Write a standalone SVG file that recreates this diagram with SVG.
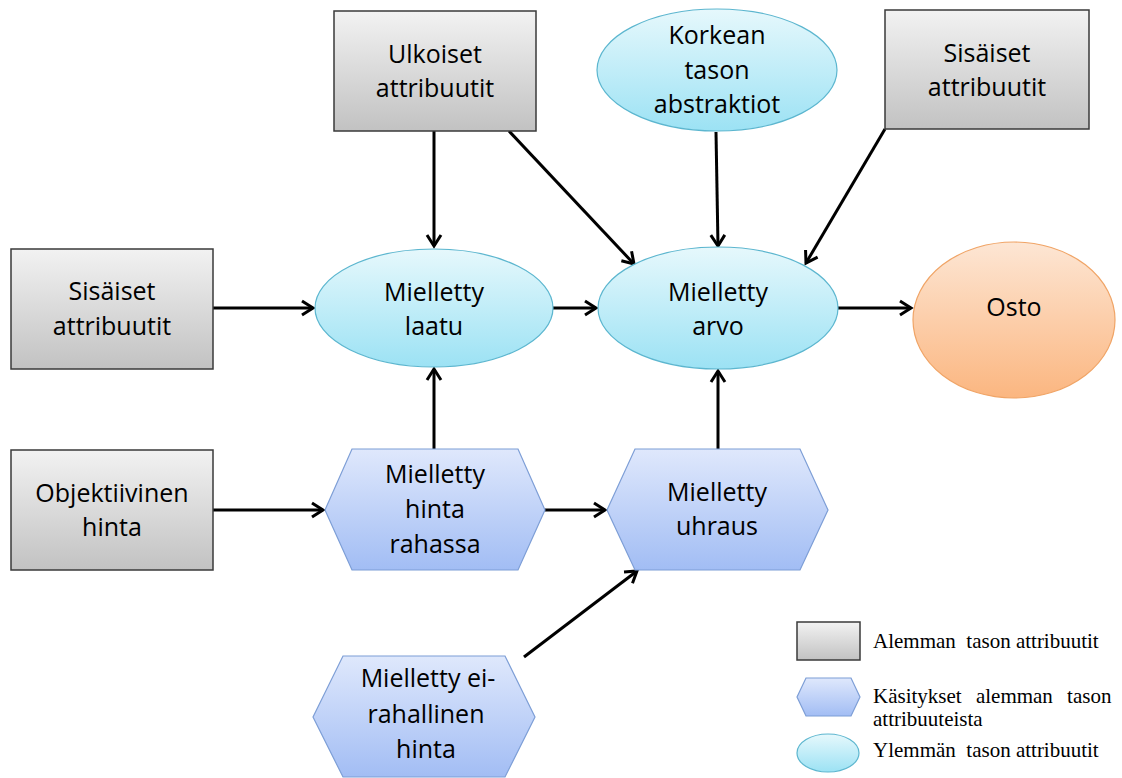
<svg xmlns="http://www.w3.org/2000/svg" width="1122" height="778" viewBox="0 0 1122 778">
<defs>
<linearGradient id="gGray" x1="0" y1="0" x2="0" y2="1"><stop offset="0" stop-color="#f2f2f2"/><stop offset="1" stop-color="#c2c2c2"/></linearGradient>
<linearGradient id="gCyan" x1="0" y1="0" x2="0" y2="1"><stop offset="0" stop-color="#e6f8fc"/><stop offset="1" stop-color="#9ce2f4"/></linearGradient>
<linearGradient id="gBlue" x1="0" y1="0" x2="0" y2="1"><stop offset="0" stop-color="#dfe8fc"/><stop offset="1" stop-color="#a2bdf4"/></linearGradient>
<linearGradient id="gOrange" x1="0" y1="0" x2="0" y2="1"><stop offset="0" stop-color="#fde6d4"/><stop offset="1" stop-color="#fbb680"/></linearGradient>
<marker id="arr" markerUnits="userSpaceOnUse" markerWidth="16" markerHeight="16" refX="12" refY="8" orient="auto" overflow="visible">
<path d="M1,1 L12,8 L1,15" fill="none" stroke="#000" stroke-width="3"/>
</marker>
</defs>
<style>
.box{fill:url(#gGray);stroke:#3a3a3a;stroke-width:1.5}
.ell{fill:url(#gCyan);stroke:#5cb6cf;stroke-width:1.2}
.hex{fill:url(#gBlue);stroke:#7d9ed6;stroke-width:1.2}
.osto{fill:url(#gOrange);stroke:#f0a466;stroke-width:1.2}
.t{font-family:"Open Sans","Liberation Sans",sans-serif;font-size:25px;fill:#000;text-anchor:middle}
.lg{font-family:"Liberation Serif","Times New Roman",serif;font-size:21px;fill:#000}
.c{fill:none;stroke:#000;stroke-width:3;marker-end:url(#arr)}
</style>
<rect width="1122" height="778" fill="#fff"/>

<g id="connectors">
<line class="c" x1="434" y1="131" x2="434" y2="246"/>
<line class="c" x1="509" y1="131" x2="634" y2="264"/>
<line class="c" x1="716" y1="132" x2="718" y2="246"/>
<line class="c" x1="885" y1="129" x2="806" y2="263"/>
<line class="c" x1="213" y1="308" x2="313" y2="308"/>
<line class="c" x1="553" y1="308" x2="596" y2="308"/>
<line class="c" x1="838" y1="308" x2="911" y2="308"/>
<line class="c" x1="434" y1="449" x2="434" y2="369"/>
<line class="c" x1="718" y1="449" x2="718" y2="371"/>
<line class="c" x1="213" y1="510" x2="323" y2="510"/>
<line class="c" x1="545" y1="510" x2="605" y2="510"/>
<line class="c" x1="524" y1="657" x2="637" y2="571"/>
</g>

<g id="ulkoiset">
<rect class="box" x="334" y="11" width="202" height="120"/>
<text class="t" x="435" y="63">Ulkoiset</text>
<text class="t" x="435" y="97">attribuutit</text>
</g>
<g id="korkean">
<ellipse class="ell" cx="717" cy="70" rx="120" ry="61"/>
<text class="t" x="717" y="44">Korkean</text>
<text class="t" x="717" y="79">tason</text>
<text class="t" x="717" y="113">abstraktiot</text>
</g>
<g id="sisaiset-top">
<rect class="box" x="885" y="10" width="204" height="119"/>
<text class="t" x="987" y="62">Sisäiset</text>
<text class="t" x="987" y="96">attribuutit</text>
</g>
<g id="sisaiset-left">
<rect class="box" x="11" y="249" width="202" height="120"/>
<text class="t" x="112" y="300">Sisäiset</text>
<text class="t" x="112" y="335">attribuutit</text>
</g>
<g id="laatu">
<ellipse class="ell" cx="434" cy="308" rx="119" ry="59"/>
<text class="t" x="434" y="301">Mielletty</text>
<text class="t" x="434" y="335">laatu</text>
</g>
<g id="arvo">
<ellipse class="ell" cx="718" cy="308" rx="120" ry="61"/>
<text class="t" x="718" y="301">Mielletty</text>
<text class="t" x="718" y="335">arvo</text>
</g>
<g id="osto">
<ellipse class="osto" cx="1014" cy="320" rx="101" ry="78"/>
<text class="t" x="1014" y="316">Osto</text>
</g>
<g id="objektiivinen">
<rect class="box" x="11" y="450" width="202" height="120"/>
<text class="t" x="112" y="502">Objektiivinen</text>
<text class="t" x="112" y="536">hinta</text>
</g>
<g id="hinta-rahassa">
<polygon class="hex" points="325,510 352,449 518,449 545,510 518,570 352,570"/>
<text class="t" x="435" y="483">Mielletty</text>
<text class="t" x="435" y="518">hinta</text>
<text class="t" x="435" y="553">rahassa</text>
</g>
<g id="uhraus">
<polygon class="hex" points="607,510 635,449 800,449 828,510 800,570 635,570"/>
<text class="t" x="717" y="501">Mielletty</text>
<text class="t" x="717" y="535">uhraus</text>
</g>
<g id="ei-rahallinen">
<polygon class="hex" points="313,717 343,656 505,656 535,717 505,777 343,777"/>
<text class="t" x="428" y="687">Mielletty ei-</text>
<text class="t" x="426" y="723">rahallinen</text>
<text class="t" x="426" y="758">hinta</text>
</g>

<g id="legend">
<rect class="box" x="797" y="622" width="63" height="38"/>
<text class="lg" x="873" y="648" xml:space="preserve">Alemman  tason attribuutit</text>
<polygon class="hex" points="797,697 806,678 851,678 860,697 851,716 806,716"/>
<text class="lg" x="873" y="703" word-spacing="9">Käsitykset alemman tason</text>
<text class="lg" x="873" y="726">attribuuteista</text>
<ellipse class="ell" cx="828" cy="753" rx="31" ry="19"/>
<text class="lg" x="873" y="757" xml:space="preserve">Ylemmän  tason attribuutit</text>
</g>
</svg>
